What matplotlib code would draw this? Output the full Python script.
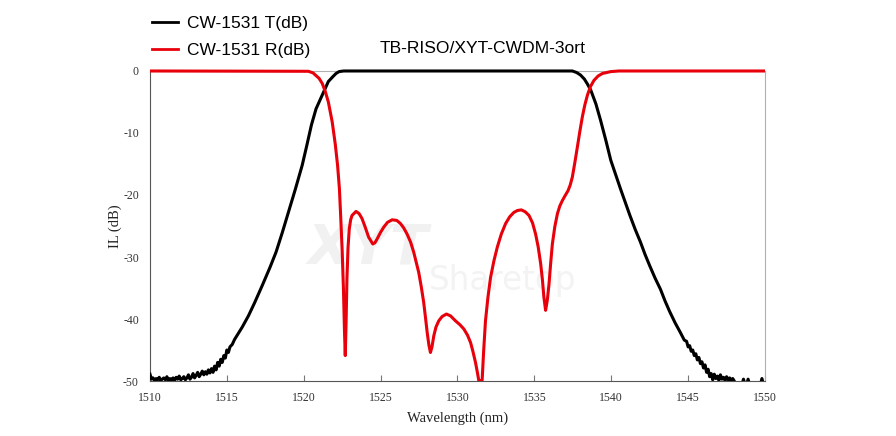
import matplotlib.pyplot as plt
from matplotlib.patches import Rectangle

# Transmission (T) curve, dB vs wavelength (nm)
t_wl = [1510.0, 1510.1, 1510.2, 1510.3, 1510.4, 1510.5, 1510.6, 1510.7, 1510.8, 1510.9,
        1511.0, 1511.1, 1511.2, 1511.3, 1511.4, 1511.5, 1511.6, 1511.7, 1511.8, 1511.9,
        1512.0, 1512.1, 1512.2, 1512.3, 1512.4, 1512.5, 1512.6, 1512.7, 1512.8, 1512.9,
        1513.0, 1513.1, 1513.2, 1513.3, 1513.4, 1513.5, 1513.6, 1513.7, 1513.8, 1513.9,
        1514.0, 1514.1, 1514.2, 1514.3, 1514.4, 1514.5, 1514.6, 1514.7, 1514.8, 1514.9,
        1515.0, 1515.1, 1515.2, 1515.35, 1515.5, 1516.0, 1516.4, 1516.8, 1517.3, 1517.8,
        1518.2, 1518.6, 1519.0, 1519.45, 1519.9, 1520.2, 1520.5, 1520.8, 1521.2, 1521.6,
        1521.9, 1522.1, 1522.3, 1522.6, 1537.47, 1537.75, 1538.0, 1538.25, 1538.45, 1538.67,
        1539.0, 1539.3, 1539.65, 1539.97, 1540.3, 1540.6, 1540.9, 1541.2, 1541.55, 1541.9,
        1542.2, 1542.5, 1542.85, 1543.2, 1543.5, 1543.8, 1544.15, 1544.5, 1544.75, 1544.9,
        1545.0, 1545.1, 1545.2, 1545.3, 1545.4, 1545.5, 1545.6, 1545.7, 1545.8, 1545.9,
        1546.0, 1546.1, 1546.2, 1546.3, 1546.4, 1546.5, 1546.6, 1546.7, 1546.8, 1546.9,
        1547.0, 1547.1, 1547.2, 1547.3, 1547.4, 1547.5, 1547.6, 1547.7, 1547.8, 1547.9,
        1548.0, 1548.1, 1548.5, 1548.6, 1548.7, 1548.8, 1548.9, 1549.0, 1549.7, 1549.8,
        1549.9, 1550.0]
t_db = [-48.9, -49.7, -49.5, -49.9, -49.6, -49.8, -49.4, -49.9, -49.7, -49.5,
        -49.8, -49.3, -49.9, -49.6, -49.8, -49.5, -49.9, -49.4, -49.7, -49.2,
        -49.8, -49.6, -49.3, -49.8, -49.5, -49.0, -49.7, -49.4, -48.8, -49.5,
        -49.1, -48.6, -49.3, -48.9, -48.4, -49.0, -48.5, -48.9, -48.2, -48.7,
        -48.0, -48.6, -47.6, -48.2, -47.0, -47.6, -46.5, -47.0, -45.9, -46.3,
        -45.0, -45.4, -44.5, -44.1, -43.3, -41.3, -39.5, -37.4, -34.6, -31.7,
        -29.2, -26.1, -22.8, -19.1, -15.2, -12.0, -8.7, -6.1, -3.9, -1.7,
        -0.9, -0.4, -0.1, 0.0, 0.0, -0.25, -0.65, -1.3, -2.1, -3.1,
        -5.3, -7.9, -11.2, -14.4, -16.8, -19.0, -21.1, -23.2, -25.5, -27.6,
        -29.6, -31.4, -33.4, -35.2, -37.1, -38.8, -40.6, -42.2, -43.4, -43.6,
        -44.5, -44.3, -45.2, -45.0, -45.9, -45.6, -46.6, -46.2, -47.2, -46.9,
        -47.9, -47.4, -48.6, -48.1, -49.3, -48.8, -49.8, -48.9, -49.6, -49.2,
        -49.9, -49.0, -49.7, -49.4, -49.9, -49.3, -49.8, -49.5, -49.9, -49.6,
        -50.0, -50.6, -50.6, -49.7, -50.6, -50.6, -49.7, -50.6, -50.6, -49.6,
        -50.6, -50.6]

# Reflection (R) curve
r_wl = [1510.0, 1520.3, 1520.6, 1521.0, 1521.2, 1521.4, 1521.6, 1521.85, 1522.05, 1522.2,
        1522.32, 1522.4, 1522.5, 1522.58, 1522.65, 1522.7, 1522.75, 1522.81, 1522.88, 1522.96,
        1523.05, 1523.14, 1523.4, 1523.6, 1523.79, 1524.0, 1524.22, 1524.49, 1524.63, 1524.77,
        1525.0, 1525.2, 1525.45, 1525.75, 1526.05, 1526.29, 1526.5, 1526.72, 1526.95, 1527.15,
        1527.3, 1527.48, 1527.65, 1527.8, 1527.92, 1528.03, 1528.14, 1528.24, 1528.34, 1528.46,
        1528.6, 1528.78, 1529.0, 1529.28, 1529.55, 1529.87, 1530.15, 1530.41, 1530.65, 1530.85,
        1531.0, 1531.17, 1531.3, 1531.39, 1531.5, 1531.6, 1531.7, 1531.82, 1531.98, 1532.15,
        1532.37, 1532.59, 1532.85, 1533.13, 1533.4, 1533.67, 1533.9, 1534.15, 1534.4, 1534.65,
        1534.88, 1535.08, 1535.25, 1535.41, 1535.52, 1535.62, 1535.73, 1535.84, 1535.95, 1536.06,
        1536.17, 1536.33, 1536.5, 1536.65, 1536.82, 1537.0, 1537.19, 1537.33, 1537.47, 1537.63,
        1537.8, 1537.96, 1538.12, 1538.28, 1538.45, 1538.65, 1538.88, 1539.15, 1539.43, 1539.97,
        1540.5, 1550.0]
r_db = [0.0, -0.05, -0.3, -1.2, -2.0, -3.3, -5.0, -8.2, -11.8, -15.2,
        -19.0, -23.3, -29.0, -35.0, -42.0, -45.9, -41.0, -33.5, -28.5, -25.5,
        -24.0, -23.3, -22.65, -23.0, -23.8, -25.2, -26.8, -27.9, -27.7, -27.1,
        -26.0, -25.2, -24.4, -24.0, -24.1, -24.6, -25.3, -26.3, -27.6, -29.2,
        -30.7, -32.5, -34.9, -37.3, -39.8, -42.2, -44.2, -45.4, -44.5, -42.7,
        -41.3, -40.3, -39.6, -39.2, -39.5, -40.3, -40.9, -41.6, -42.6, -43.8,
        -45.2, -47.0, -48.7, -50.0, -50.0, -50.0, -45.2, -40.3, -36.5, -33.3,
        -30.6, -28.4, -26.3, -24.6, -23.5, -22.8, -22.5, -22.4, -22.7, -23.3,
        -24.5, -26.3, -28.4, -31.1, -33.6, -36.5, -38.6, -37.0, -34.4, -31.0,
        -27.9, -25.1, -23.0, -21.8, -20.9, -20.1, -19.3, -18.4, -17.1, -14.8,
        -12.2, -9.7, -7.4, -5.5, -3.9, -2.5, -1.5, -0.8, -0.4, -0.1,
        0.0, 0.0]

x_ticks = [1510, 1515, 1520, 1525, 1530, 1535, 1540, 1545, 1550]
y_ticks = [0, -10, -20, -30, -40, -50]

fig = plt.figure(figsize=(8.96, 4.36), dpi=100)
ax = fig.add_axes([0.1674, 0.1261, 0.6864, 0.7111])

# faint watermark behind the curves
ax.text(0.343, 0.395, 'XYT', transform=fig.transFigure, fontsize=40, fontweight='bold',
        style='italic', color='#f1f1f1', family='DejaVu Sans', zorder=1)
ax.text(0.479, 0.335, 'Sharetop', transform=fig.transFigure, fontsize=23.5,
        color='#f3f3f3', family='DejaVu Sans', zorder=1)

# let the lines at 0 dB show their full width on the top edge
clip = Rectangle((0, 0), 1, 1.03, transform=ax.transAxes)

lt, = ax.plot(t_wl, t_db, color='black', lw=2.2, label='CW-1531 T(dB)', zorder=3)
lr, = ax.plot(r_wl, r_db, color='#e8000b', lw=2.2, label='CW-1531 R(dB)', zorder=4)
lt.set_clip_path(clip)
lr.set_clip_path(clip)

ax.set_xlim(1510, 1550)
ax.set_ylim(-50, 0)
ax.set_xticks(x_ticks)
ax.set_yticks(y_ticks)
ax.set_xticklabels([str(v) for v in x_ticks], family='Liberation Serif', fontsize=8.5, color='#333333')
ax.set_yticklabels([str(v) for v in y_ticks], family='Liberation Serif', fontsize=8.5, color='#333333')
ax.tick_params(axis='x', direction='in', length=4, color='#777777', pad=8)
ax.tick_params(axis='y', length=0, pad=8)

ax.set_xlabel('Wavelength (nm)', family='Liberation Serif', fontsize=10.5, color='#222222', labelpad=5)
ax.set_ylabel('IL (dB)', family='Liberation Serif', fontsize=10.5, color='#222222', labelpad=1)

ax.spines['left'].set_color('#555555')
ax.spines['bottom'].set_color('#555555')
ax.spines['top'].set_color('#b0b0b0')
ax.spines['right'].set_color('#b0b0b0')

leg = fig.legend(handles=[lt, lr], loc='upper left', bbox_to_anchor=(0.152, 1.0), frameon=False,
                 prop={'family': 'Liberation Sans', 'size': 12.5}, handlelength=1.5,
                 handletextpad=0.5, labelspacing=0.72)
for line in leg.get_lines():
    line.set_linewidth(2)

fig.text(0.424, 0.878, 'TB-RISO/XYT-CWDM-3ort', family='Liberation Sans', fontsize=12.6, color='black')

fig.savefig('out.png', dpi=100)
